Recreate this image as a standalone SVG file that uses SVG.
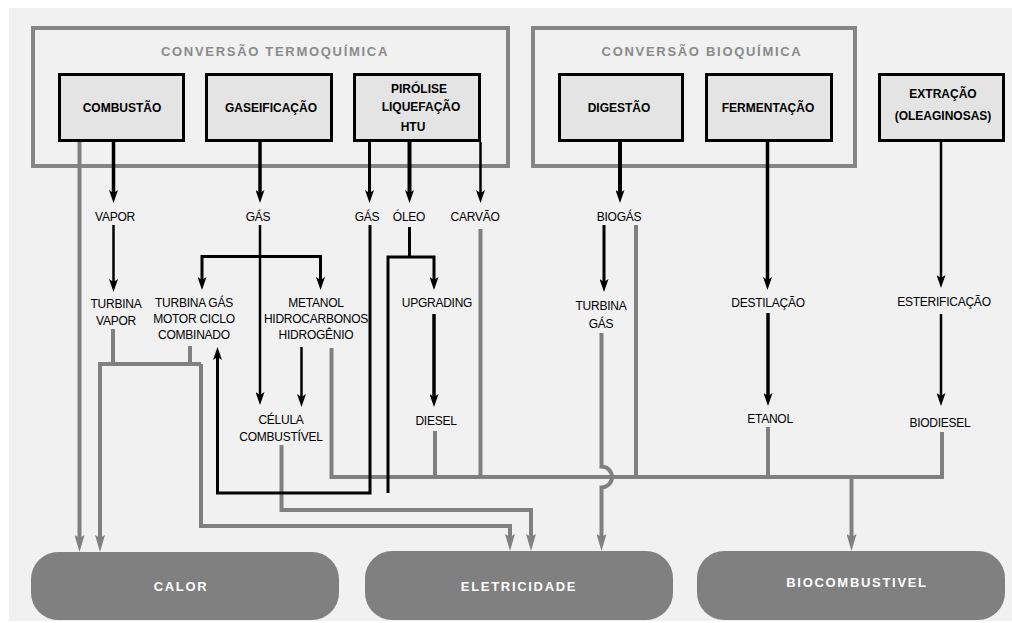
<svg xmlns="http://www.w3.org/2000/svg" width="1012" height="623" viewBox="0 0 1012 623">
<style>
.grp{fill:none;stroke:#858585;stroke-width:4}
.node rect{fill:#e4e4e4;stroke:#000;stroke-width:3}
.nt{font-family:"Liberation Sans",Arial,sans-serif;font-weight:bold;font-size:12px;fill:#000;text-anchor:middle}
.tt{font-family:"Liberation Sans",Arial,sans-serif;font-weight:bold;font-size:13px;fill:#8a8a8a;text-anchor:middle;letter-spacing:1.7px}
.lb{font-family:"Liberation Sans",Arial,sans-serif;font-size:12px;letter-spacing:-0.25px;fill:#000;text-anchor:middle}
.pill rect{fill:#808080}
.pt{font-family:"Liberation Sans",Arial,sans-serif;font-weight:bold;font-size:13px;fill:#fff;text-anchor:middle;letter-spacing:1.7px}
.bk{fill:none;stroke:#000;stroke-width:3}
.gy{fill:none;stroke:#808080;stroke-width:4}
</style>
<defs>
<marker id="ab" viewBox="0 0 13 9" markerWidth="13" markerHeight="9" refX="5" refY="4.5" orient="auto" markerUnits="userSpaceOnUse"><path d="M0,0 L13,4.5 L0,9 L3,4.5 z" fill="#000"/></marker>
<marker id="ag" viewBox="0 0 17 10" markerWidth="17" markerHeight="10" refX="8" refY="5" orient="auto" markerUnits="userSpaceOnUse"><path d="M0,0 L17,5 L0,10 L3,5 z" fill="#808080"/></marker>
</defs>
<rect x="0" y="0" width="1012" height="623" fill="#fff"/>
<rect x="9" y="8" width="1003" height="613" fill="#f1f1f1"/>

<g id="grp-termo">
<rect class="grp" x="33" y="28" width="475" height="138"/>
<text class="tt" x="275" y="56">CONVERSÃO TERMOQUÍMICA</text>
</g>
<g id="grp-bio">
<rect class="grp" x="533" y="28" width="322" height="138"/>
<text class="tt" x="702" y="56">CONVERSÃO BIOQUÍMICA</text>
</g>

<g id="n-combustao" class="node"><rect x="59.5" y="74.5" width="124" height="66"/><text class="nt" x="122" y="112">COMBUSTÃO</text></g>
<g id="n-gaseificacao" class="node"><rect x="206.5" y="74.5" width="125" height="66"/><text class="nt" x="271" y="112">GASEIFICAÇÃO</text></g>
<g id="n-pirolise" class="node"><rect x="354.5" y="74.5" width="125" height="66"/><text class="nt" x="419" y="93">PIRÓLISE</text><text class="nt" x="421" y="111">LIQUEFAÇÃO</text><text class="nt" x="413" y="131">HTU</text></g>
<g id="n-digestao" class="node"><rect x="559.5" y="74.5" width="123" height="66"/><text class="nt" x="619" y="112">DIGESTÃO</text></g>
<g id="n-fermentacao" class="node"><rect x="706.5" y="74.5" width="125" height="66"/><text class="nt" x="768" y="112">FERMENTAÇÃO</text></g>
<g id="n-extracao" class="node"><rect x="879.5" y="74.5" width="124" height="66"/><text class="nt" x="943" y="98">EXTRAÇÃO</text><text class="nt" x="943" y="120">(OLEAGINOSAS)</text></g>

<g id="labels">
<text class="lb" x="115" y="221">VAPOR</text>
<text class="lb" x="258" y="221">GÁS</text>
<text class="lb" x="367" y="221">GÁS</text>
<text class="lb" x="409" y="221">ÓLEO</text>
<text class="lb" x="475" y="221">CARVÃO</text>
<text class="lb" x="619" y="221">BIOGÁS</text>
<text class="lb" x="116" y="308">TURBINA</text>
<text class="lb" x="116" y="325">VAPOR</text>
<text class="lb" x="194" y="307">TURBINA GÁS</text>
<text class="lb" x="194" y="323">MOTOR CICLO</text>
<text class="lb" x="194" y="339">COMBINADO</text>
<text class="lb" x="316" y="307">METANOL</text>
<text class="lb" x="316" y="323">HIDROCARBONOS</text>
<text class="lb" x="316" y="339">HIDROGÊNIO</text>
<text class="lb" x="437" y="307">UPGRADING</text>
<text class="lb" x="601" y="310">TURBINA</text>
<text class="lb" x="601" y="328">GÁS</text>
<text class="lb" x="768" y="307">DESTILAÇÃO</text>
<text class="lb" x="944" y="306">ESTERIFICAÇÃO</text>
<text class="lb" x="281" y="424">CÉLULA</text>
<text class="lb" x="281" y="441">COMBUSTÍVEL</text>
<text class="lb" x="436" y="425">DIESEL</text>
<text class="lb" x="770" y="423">ETANOL</text>
<text class="lb" x="940" y="427">BIODIESEL</text>
</g>

<g id="connectors">
<g class="gy-lines">
<path class="gy" d="M79.5,142 V543" marker-end="url(#ag)"/>
<path class="gy" d="M113,329 V364"/>
<path class="gy" d="M190,346 V364"/>
<path class="gy" d="M201,364 H100 V543" marker-end="url(#ag)"/>
<path class="gy" d="M201,364 V526 H510 V542" marker-end="url(#ag)"/>
<path class="gy" d="M281.5,445 V510 H531 V542" marker-end="url(#ag)"/>
<path class="gy" d="M331.5,348 V477 H942 V432"/>
<path class="gy" d="M435,431 V477"/>
<path class="gy" d="M480.5,229 V477"/>
<path class="gy" d="M636,225 V477"/>
<path class="gy" d="M768,427 V477"/>
<path class="gy" d="M851.5,477 V542" marker-end="url(#ag)"/>
<path class="gy" d="M601.5,333 V466.5 A10.5,10.5 0 0 1 601.5,487.5 V542" marker-end="url(#ag)"/>
</g>
<g class="bk-lines">
<path class="bk" style="stroke-width:3.5" d="M113.5,142 V195" marker-end="url(#ab)"/>
<path class="bk" style="stroke-width:3.5" d="M260,142 V195" marker-end="url(#ab)"/>
<path class="bk" d="M369.5,142 V195" marker-end="url(#ab)"/>
<path class="bk" style="stroke-width:4" d="M409.5,142 V195" marker-end="url(#ab)"/>
<path class="bk" style="stroke-width:2.5" d="M480.5,142 V195" marker-end="url(#ab)"/>
<path class="bk" style="stroke-width:4" d="M620,142 V195" marker-end="url(#ab)"/>
<path class="bk" style="stroke-width:3.5" d="M767.5,142 V282" marker-end="url(#ab)"/>
<path class="bk" style="stroke-width:2.5" d="M941,142 V280" marker-end="url(#ab)"/>
<path class="bk" style="stroke-width:2.5" d="M113.5,225 V284" marker-end="url(#ab)"/>
<path class="bk" style="stroke-width:2.5" d="M260,225 V397" marker-end="url(#ab)"/>
<path class="bk" d="M260,256.5 H202 V282" marker-end="url(#ab)"/>
<path class="bk" d="M260,256.5 H320.5 V282" marker-end="url(#ab)"/>
<path class="bk" d="M370,225 V493 H217.5 V355" marker-end="url(#ab)"/>
<path class="bk" d="M388,493 V257 H434 V282" marker-end="url(#ab)"/>
<path class="bk" d="M409.5,227 V257"/>
<path class="bk" style="stroke-width:3.5" d="M434,314 V399" marker-end="url(#ab)"/>
<path class="bk" style="stroke-width:2.5" d="M301.5,347 V399" marker-end="url(#ab)"/>
<path class="bk" style="stroke-width:3" d="M604,225 V284" marker-end="url(#ab)"/>
<path class="bk" style="stroke-width:3.5" d="M768,313 V398" marker-end="url(#ab)"/>
<path class="bk" style="stroke-width:2.5" d="M941,314 V398" marker-end="url(#ab)"/>
</g>
</g>

<g id="n-calor" class="pill"><rect x="31" y="552" width="308" height="68" rx="27"/><text class="pt" x="181" y="591">CALOR</text></g>
<g id="n-eletricidade" class="pill"><rect x="365" y="551" width="308" height="69" rx="27"/><text class="pt" x="519" y="591">ELETRICIDADE</text></g>
<g id="n-biocombustivel" class="pill"><rect x="697" y="551" width="308" height="69" rx="27"/><text class="pt" x="857" y="587">BIOCOMBUSTIVEL</text></g>
</svg>
